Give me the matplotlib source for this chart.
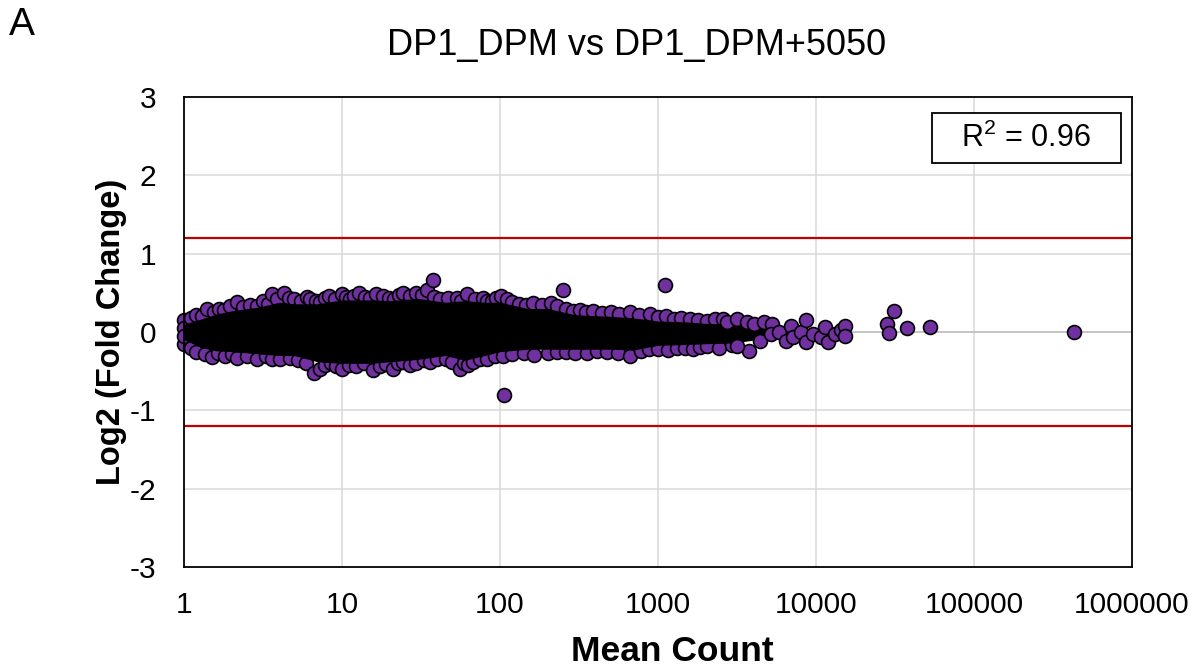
import matplotlib
matplotlib.use("Agg")
import matplotlib.pyplot as plt
from matplotlib.patches import Rectangle

plt.rcParams["font.family"] = ["Liberation Sans", "DejaVu Sans"]
plt.rcParams["axes.unicode_minus"] = False
plt.rcParams["mathtext.fontset"] = "custom"
plt.rcParams["mathtext.rm"] = "Liberation Sans"

# core of the cloud (solid black where thousands of genes overlap)
core_x = [1, 1.3, 1.6, 2, 3, 4, 5, 7, 10, 15, 20, 30, 45, 60, 80, 100, 150, 200,
          300, 500, 700, 1000, 1500, 2000, 3000, 4500, 6000]
core_hi = [0.10, 0.17, 0.23, 0.27, 0.32, 0.38, 0.36, 0.36, 0.41, 0.41, 0.40, 0.43,
           0.38, 0.40, 0.38, 0.38, 0.30, 0.30, 0.22, 0.20, 0.18, 0.14, 0.13, 0.11,
           0.10, 0.06, 0.0]
core_lo = [-0.10, -0.20, -0.24, -0.25, -0.28, -0.30, -0.30, -0.38, -0.40, -0.40,
           -0.38, -0.35, -0.30, -0.36, -0.30, -0.25, -0.22, -0.22, -0.22, -0.22,
           -0.23, -0.17, -0.16, -0.15, -0.14, -0.09, -0.04]

# genes on the upper edge of the cloud
upper_x = [1.0, 1.0, 1.1, 1.2, 1.3, 1.4, 1.55, 1.66, 1.8, 1.95, 2.16, 2.35, 2.63,
           2.9, 3.16, 3.4, 3.63, 3.9, 4.27, 4.6, 5.0, 5.5, 6.0, 6.31, 6.8, 7.24,
           7.8, 8.32, 9.0, 10, 10.6, 11.2, 12.0, 12.9, 14, 15.1, 16.5, 18.2, 19.8,
           21.4, 23, 24.5, 27, 29.5, 32, 34.7, 38, 41.7, 47, 53.7, 57, 61.7, 69,
           77.6, 83, 89.1, 95, 102, 110, 120, 132, 146, 162, 185, 209, 230, 260,
           288, 320, 350, 389, 440, 501, 570, 661, 760, 891, 1000, 1120, 1259,
           1400, 1585, 1800, 2042, 2300, 2570]
upper_y = [0.15, 0.05, 0.18, 0.22, 0.20, 0.30, 0.25, 0.30, 0.28, 0.33, 0.38, 0.32,
           0.35, 0.33, 0.40, 0.36, 0.48, 0.42, 0.50, 0.44, 0.42, 0.40, 0.45, 0.42,
           0.40, 0.38, 0.43, 0.46, 0.42, 0.48, 0.45, 0.42, 0.46, 0.50, 0.45, 0.44,
           0.48, 0.46, 0.44, 0.42, 0.47, 0.50, 0.46, 0.50, 0.47, 0.53, 0.45, 0.42,
           0.44, 0.44, 0.40, 0.48, 0.42, 0.44, 0.40, 0.40, 0.43, 0.46, 0.42, 0.38,
           0.36, 0.34, 0.37, 0.35, 0.37, 0.33, 0.30, 0.27, 0.28, 0.25, 0.27, 0.24,
           0.25, 0.23, 0.25, 0.22, 0.23, 0.19, 0.20, 0.17, 0.18, 0.17, 0.15, 0.14,
           0.16, 0.17]

# genes on the lower edge of the cloud
lower_x = [1.0, 1.0, 1.1, 1.2, 1.35, 1.51, 1.65, 1.82, 2.0, 2.16, 2.5, 2.88, 3.3,
           3.6, 4.07, 4.68, 5.3, 5.9, 6.61, 7.24, 7.8, 8.51, 9.2, 10, 11, 12.3,
           13.8, 15.8, 17.5, 19, 20.9, 22.7, 24.5, 27, 29.5, 33, 36.3, 40, 45.7,
           50, 56.2, 58.9, 63, 67.6, 75, 83.2, 93, 105, 120, 141, 165, 200, 230,
           263, 300, 355, 410, 479, 560, 661, 776, 880, 1000, 1150, 1318, 1480,
           1660, 1850, 2042, 2450, 2951]
lower_y = [-0.15, -0.05, -0.20, -0.25, -0.28, -0.32, -0.27, -0.30, -0.28, -0.33,
           -0.30, -0.35, -0.31, -0.34, -0.35, -0.33, -0.36, -0.40, -0.52, -0.47,
           -0.42, -0.40, -0.44, -0.47, -0.42, -0.44, -0.40, -0.49, -0.43, -0.41,
           -0.47, -0.40, -0.38, -0.42, -0.40, -0.36, -0.38, -0.35, -0.34, -0.38,
           -0.47, -0.40, -0.42, -0.38, -0.35, -0.34, -0.31, -0.30, -0.28, -0.27,
           -0.29, -0.27, -0.25, -0.25, -0.27, -0.27, -0.24, -0.25, -0.27, -0.30,
           -0.24, -0.22, -0.22, -0.23, -0.20, -0.21, -0.22, -0.19, -0.18, -0.20,
           -0.17]

# sparse high-count tail and isolated genes
tail_x = [2720, 3160, 3660, 4040, 4680, 5300, 3750, 3160, 4450, 5170, 5840, 6450,
          6940, 7110, 8050, 8660, 8660, 9550, 10800, 11350, 11900, 13200, 14500,
          15300, 15300, 28200, 28900, 31200, 37900, 52300, 430000,
          37.8, 251, 106, 1107]
tail_y = [0.13, 0.17, 0.13, 0.10, 0.13, 0.10, -0.24, -0.18, -0.11, -0.02, 0.0,
          -0.11, 0.08, -0.07, 0.0, 0.15, -0.13, -0.02, -0.07, 0.06, -0.13, -0.02,
          0.02, 0.08, -0.05, 0.10, -0.01, 0.27, 0.05, 0.07, 0.0,
          0.66, 0.53, -0.80, 0.60]

cutoff = 1.2
x_ticks = [1, 10, 100, 1000, 10000, 100000, 1000000]
y_ticks = [-3, -2, -1, 0, 1, 2, 3]

purple = "#7030A0"

fig = plt.figure(figsize=(12.04, 6.71), dpi=100)
ax = fig.add_axes([0.1528, 0.155, 0.7874, 0.7004])

ax.set_xscale("log")
ax.set_xlim(1, 1000000)
ax.set_ylim(-3, 3)

for yv in [-2, -1, 1, 2]:
    ax.axhline(yv, color="#D9D9D9", lw=1.1, zorder=0)
for xv in x_ticks[1:-1]:
    ax.axvline(xv, color="#D9D9D9", lw=1.1, zorder=0)
ax.axhline(0, color="#BFBFBF", lw=1.3, zorder=0.5)

ax.axhline(cutoff, color="#C00000", lw=1.6, zorder=1)
ax.axhline(-cutoff, color="#C00000", lw=1.6, zorder=1)

mk = dict(s=100, c=purple, edgecolors="black", linewidths=1.2, clip_on=False)
ax.scatter(upper_x, upper_y, zorder=2, **mk)
ax.scatter(lower_x, lower_y, zorder=2, **mk)
ax.fill_between(core_x, core_lo, core_hi, color="black", lw=0, zorder=3)
ax.scatter(tail_x, tail_y, zorder=4, **mk)

ax.set_xticks(x_ticks)
ax.set_xticklabels([str(v) for v in x_ticks])
ax.xaxis.set_minor_locator(matplotlib.ticker.NullLocator())
ax.set_yticks(y_ticks)
ax.tick_params(length=0, labelsize=21.5)
ax.tick_params(axis="x", pad=17)
ax.tick_params(axis="y", pad=20)

for sp in ax.spines.values():
    sp.set_color("black")
    sp.set_linewidth(1.3)

ax.set_xlabel("Mean Count", fontsize=25.5, fontweight="bold", va="center")
ax.xaxis.set_label_coords(0.515, -0.18)
ax.set_ylabel("Log2 (Fold Change)", fontsize=23.5, fontweight="bold", labelpad=2)

fig.text(0.529, 0.932, "DP1_DPM vs DP1_DPM+5050", fontsize=26, ha="center", va="center")
fig.text(0.007, 0.963, "A", fontsize=28, ha="left", va="center")

ax.add_patch(Rectangle((0.789, 0.86), 0.199, 0.106, transform=ax.transAxes,
                       facecolor="white", edgecolor="black", lw=1.3, zorder=5))
ax.text(0.8885, 0.913, "R$^2$ = 0.96", transform=ax.transAxes, fontsize=22,
        ha="center", va="center", zorder=6)

fig.savefig("out.png", dpi=100)
